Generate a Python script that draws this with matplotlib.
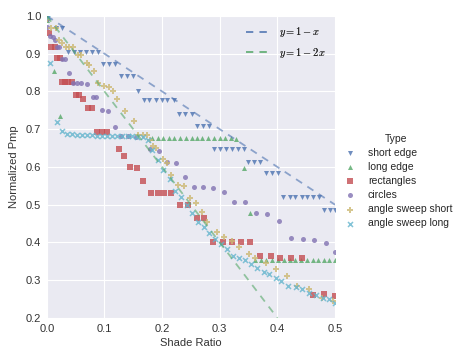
import matplotlib
matplotlib.use('Agg')
import matplotlib.pyplot as plt

plt.style.use('seaborn-v0_8-darkgrid')
plt.rcParams['mathtext.fontset'] = 'cm'
plt.rcParams['font.family'] = ['Liberation Sans', 'DejaVu Sans']

# data
short_x = [0.0, 0.016, 0.026, 0.037, 0.047, 0.058, 0.068, 0.078, 0.089, 0.098, 0.108, 0.119,
           0.129, 0.139, 0.150, 0.159, 0.168, 0.178, 0.189, 0.199, 0.209, 0.220, 0.230, 0.240,
           0.251, 0.260, 0.271, 0.281, 0.290, 0.300, 0.311, 0.321, 0.332, 0.342, 0.349, 0.360,
           0.370, 0.380, 0.391, 0.401, 0.410, 0.421, 0.431, 0.442, 0.452, 0.462, 0.472, 0.481,
           0.491, 0.500]
short_y = [0.995, 0.967, 0.967, 0.904, 0.904, 0.904, 0.904, 0.904, 0.904, 0.872, 0.872, 0.872,
           0.840, 0.840, 0.840, 0.802, 0.777, 0.777, 0.777, 0.777, 0.777, 0.777, 0.741, 0.741,
           0.741, 0.709, 0.709, 0.709, 0.647, 0.647, 0.647, 0.647, 0.647, 0.647, 0.614, 0.614,
           0.614, 0.583, 0.583, 0.583, 0.520, 0.520, 0.520, 0.520, 0.520, 0.520, 0.520, 0.485,
           0.485, 0.485]

long_x = [0.0, 0.013, 0.023, 0.182, 0.192, 0.202, 0.212, 0.221, 0.231, 0.241, 0.251, 0.260,
          0.270, 0.280, 0.290, 0.300, 0.309, 0.319, 0.329, 0.342, 0.352, 0.361, 0.371, 0.381,
          0.391, 0.401, 0.411, 0.421, 0.431, 0.441, 0.451, 0.461, 0.470, 0.480, 0.490, 0.500]
long_y = [0.99, 0.854, 0.735, 0.677, 0.677, 0.677, 0.677, 0.677, 0.677, 0.677, 0.677, 0.677,
          0.677, 0.677, 0.677, 0.677, 0.676, 0.676, 0.675, 0.598, 0.477, 0.354, 0.354, 0.354,
          0.354, 0.354, 0.354, 0.354, 0.354, 0.354, 0.354, 0.354, 0.354, 0.354, 0.354, 0.354]

rect_x = [0.003, 0.008, 0.014, 0.018, 0.023, 0.026, 0.031, 0.037, 0.043, 0.050, 0.056, 0.063,
          0.072, 0.079, 0.087, 0.095, 0.104, 0.125, 0.134, 0.145, 0.156, 0.167, 0.180, 0.192,
          0.204, 0.216, 0.231, 0.245, 0.260, 0.273, 0.289, 0.305, 0.321, 0.336, 0.352, 0.370,
          0.388, 0.405, 0.424, 0.443, 0.461, 0.481, 0.500]
rect_y = [0.954, 0.919, 0.919, 0.888, 0.888, 0.825, 0.825, 0.825, 0.825, 0.791, 0.791, 0.780,
          0.757, 0.757, 0.692, 0.692, 0.692, 0.648, 0.629, 0.599, 0.597, 0.562, 0.530, 0.530,
          0.530, 0.530, 0.499, 0.499, 0.464, 0.464, 0.400, 0.400, 0.400, 0.400, 0.400, 0.364,
          0.364, 0.358, 0.358, 0.358, 0.261, 0.263, 0.258]

circ_x = [0.0, 0.0, 0.005, 0.010, 0.014, 0.017, 0.021, 0.026, 0.031, 0.039, 0.045, 0.052,
          0.060, 0.069, 0.080, 0.086, 0.095, 0.106, 0.118, 0.129, 0.141, 0.155, 0.179, 0.194,
          0.208, 0.224, 0.239, 0.255, 0.271, 0.289, 0.307, 0.325, 0.344, 0.363, 0.382, 0.403,
          0.424, 0.445, 0.464, 0.484, 0.500]
circ_y = [0.992, 0.972, 0.948, 0.944, 0.936, 0.917, 0.917, 0.887, 0.887, 0.850, 0.823, 0.823,
          0.823, 0.820, 0.786, 0.786, 0.751, 0.747, 0.707, 0.681, 0.681, 0.680, 0.647, 0.642,
          0.612, 0.611, 0.573, 0.548, 0.546, 0.544, 0.535, 0.508, 0.508, 0.477, 0.475, 0.456,
          0.411, 0.409, 0.407, 0.399, 0.376]

ass_x = [0.0, 0.008, 0.016, 0.021, 0.026, 0.033, 0.039, 0.045, 0.054, 0.060, 0.069, 0.073,
         0.082, 0.089, 0.099, 0.108, 0.115, 0.122, 0.135, 0.151, 0.159, 0.166, 0.173, 0.179,
         0.185, 0.190, 0.202, 0.208, 0.216, 0.228, 0.238, 0.249, 0.259, 0.269, 0.277, 0.295,
         0.307, 0.321, 0.334, 0.350, 0.361, 0.380, 0.398, 0.416, 0.434, 0.455, 0.477, 0.496]
ass_y = [0.993, 0.967, 0.967, 0.936, 0.929, 0.919, 0.919, 0.919, 0.897, 0.897, 0.875, 0.870,
         0.854, 0.822, 0.815, 0.811, 0.800, 0.780, 0.748, 0.723, 0.685, 0.685, 0.685, 0.672,
         0.656, 0.650, 0.620, 0.610, 0.578, 0.552, 0.550, 0.517, 0.504, 0.482, 0.455, 0.429,
         0.415, 0.404, 0.387, 0.369, 0.358, 0.347, 0.329, 0.311, 0.285, 0.276, 0.252, 0.246]

asl_x = [0.002, 0.006, 0.017, 0.026, 0.035, 0.044, 0.052, 0.061, 0.070, 0.078, 0.087, 0.096,
         0.105, 0.113, 0.122, 0.131, 0.140, 0.148, 0.157, 0.166, 0.176, 0.182, 0.193, 0.202,
         0.214, 0.222, 0.232, 0.243, 0.252, 0.262, 0.272, 0.282, 0.292, 0.302, 0.312, 0.323,
         0.334, 0.344, 0.354, 0.365, 0.376, 0.386, 0.398, 0.407, 0.419, 0.432, 0.442, 0.454,
         0.467, 0.479, 0.490, 0.500]
asl_y = [0.996, 0.875, 0.719, 0.696, 0.686, 0.686, 0.685, 0.685, 0.684, 0.684, 0.683, 0.683,
         0.682, 0.682, 0.682, 0.681, 0.681, 0.681, 0.680, 0.680, 0.672, 0.645, 0.619, 0.593,
         0.569, 0.537, 0.521, 0.499, 0.477, 0.453, 0.440, 0.426, 0.409, 0.397, 0.383, 0.365,
         0.358, 0.354, 0.343, 0.332, 0.323, 0.317, 0.307, 0.298, 0.285, 0.283, 0.276, 0.265,
         0.261, 0.254, 0.250, 0.239]

series = [('short edge', short_x, short_y, 'v', '#4C72B0'),
          ('long edge', long_x, long_y, '^', '#55A868'),
          ('rectangles', rect_x, rect_y, 's', '#C44E52'),
          ('circles', circ_x, circ_y, 'o', '#8172B2'),
          ('angle sweep short', ass_x, ass_y, 'P', '#CCB974'),
          ('angle sweep long', asl_x, asl_y, 'x', '#64B5CD')]

fig = plt.figure(figsize=(4.59, 3.62), dpi=100)
ax = fig.add_axes([0.102, 0.1215, 0.628, 0.8345])

handles = []
for name, xs, ys, m, c in series:
    h = ax.scatter(xs, ys, marker=m, color=c, s=13, alpha=0.8, label=name,
                   linewidths=1.1 if m == 'x' else 0)
    handles.append(h)

l1, = ax.plot([0, 0.5], [1, 0.5], color='#4C72B0', alpha=0.6, lw=1.3, dashes=(4, 3.5),
              label='$y=1-x$')
l2, = ax.plot([0, 0.4], [1, 0.2], color='#55A868', alpha=0.6, lw=1.3, dashes=(4, 3.5),
              label='$y=1-2x$')

ax.set_xlim(0, 0.5)
ax.set_ylim(0.2, 1.0)
ax.set_xticks([0.0, 0.1, 0.2, 0.3, 0.4, 0.5])
ax.set_yticks([0.2, 0.3, 0.4, 0.5, 0.6, 0.7, 0.8, 0.9, 1.0])
ax.tick_params(labelsize=8, colors='#333333', pad=4)
ax.set_xlabel('Shade Ratio', fontsize=8, color='#333333', labelpad=3)
ax.set_ylabel('Normalized Pmp', fontsize=8, color='#333333', labelpad=5)

leg1 = ax.legend(handles=[l1, l2], loc='upper right', frameon=False, fontsize=7.5,
                 handlelength=2.4, labelspacing=0.6)
ax.add_artist(leg1)

fig.legend(handles=handles, title='Type', loc='center left', bbox_to_anchor=(0.72, 0.5),
           frameon=False, fontsize=7.5, title_fontsize=7.5, handletextpad=0.7,
           labelspacing=0.4, markerscale=1.0)

fig.savefig('out.png', dpi=100)
